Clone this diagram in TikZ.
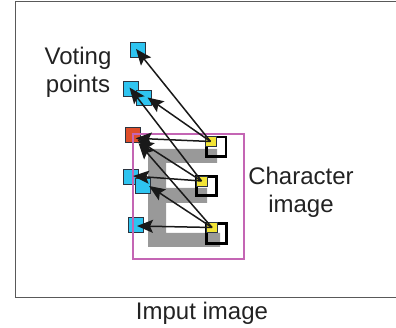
\documentclass[tikz,border=0pt]{standalone}
\usepackage{fontspec}
\setmainfont{Liberation Sans}
\usetikzlibrary{arrows.meta}
\definecolor{vcyan}{HTML}{2EC4F0}
\definecolor{vred}{HTML}{DF4E2A}
\definecolor{vyellow}{HTML}{F2E436}
\definecolor{vmag}{HTML}{C465B4}
\definecolor{vgray}{HTML}{999999}
\definecolor{vedge}{HTML}{2A3440}
\definecolor{vtext}{HTML}{222222}
\begin{document}
\begin{tikzpicture}[x=1pt,y=-1pt,
  vp/.style={draw=vedge, line width=0.9pt, minimum size=15pt, inner sep=0pt, fill=vcyan},
  redpt/.style={vp, fill=vred},
  winbox/.style={draw=black, line width=2.6pt, minimum size=19.5pt, inner sep=0pt},
  ybox/.style={draw=vedge, line width=0.7pt, fill=vyellow, minimum width=11pt, minimum height=10pt, inner sep=0pt},
  arr/.style={draw=black!90, line width=1.5pt, -{Stealth[length=16pt,width=13pt,inset=3pt]}},
  lbl/.style={font=\fontsize{24}{28}\selectfont, text=vtext, inner sep=0pt, align=center}
]
\useasboundingbox (0,0) rectangle (396,328);
% outer frame (input image)
\draw[draw=black!65, line width=0.9pt] (400,1.5) -- (15,1.5) -- (15,297) -- (400,297);
% gray E
\fill[vgray] (148,149) -- (217,149) -- (217,163) -- (166,163) -- (166,188) -- (207,188)
  -- (207,203) -- (166,203) -- (166,233) -- (220,233) -- (220,247) -- (148,247) -- cycle;
% voting points
\node[vp] (v1) at (137.5,49.5) {};
\node[vp] (v2) at (131,88.5) {};
\node[vp] (v3) at (144,98) {};
\node[redpt] (v4) at (133,134.5) {};
\node[vp] (v5) at (130.5,176.5) {};
\node[vp] (v6) at (142.5,185.5) {};
\node[vp] (v7) at (135.5,225) {};
% character image box
\draw[draw=vmag, line width=2pt] (133,134) rectangle (244,259);
% windows
\node[winbox] (w1) at (216.2,146.7) {};
\node[winbox] (w2) at (206.5,186) {};
\node[winbox] (w3) at (216.5,233.5) {};
\node[ybox] (y1) at (210.5,141.5) {};
\node[ybox] (y2) at (201.5,181) {};
\node[ybox] (y3) at (212,227.5) {};
% arrow tips
\coordinate (t1) at (136,49);
\coordinate (t2) at (129.5,87.5);
\coordinate (t3) at (147.5,97.5);
\coordinate (r1) at (135.7,138.3);
\coordinate (r2) at (137.7,140);
\coordinate (r3) at (138.5,143);
\coordinate (t5) at (133,176);
\coordinate (t6) at (149,186);
\coordinate (t7) at (137,226);
% arrows
\draw[arr] (y1.center) -- (t1);
\draw[arr] (y1.center) -- (t3);
\draw[arr] (y1.center) -- (r1);
\draw[arr] (y2.center) -- (t2);
\draw[arr] (y2.center) -- (r2);
\draw[arr] (y2.center) -- (t5);
\draw[arr] (y3.center) -- (r3);
\draw[arr] (y3.center) -- (t6);
\draw[arr] (y3.center) -- (t7);
% labels
\node[lbl, anchor=north] (vl) at (78,47) {Voting\\points};
\node[lbl, anchor=north] (cl) at (301,166.5) {Character\\image};
\node[lbl, anchor=north] (il) at (202,302) {Imput image};
\end{tikzpicture}
\end{document}
